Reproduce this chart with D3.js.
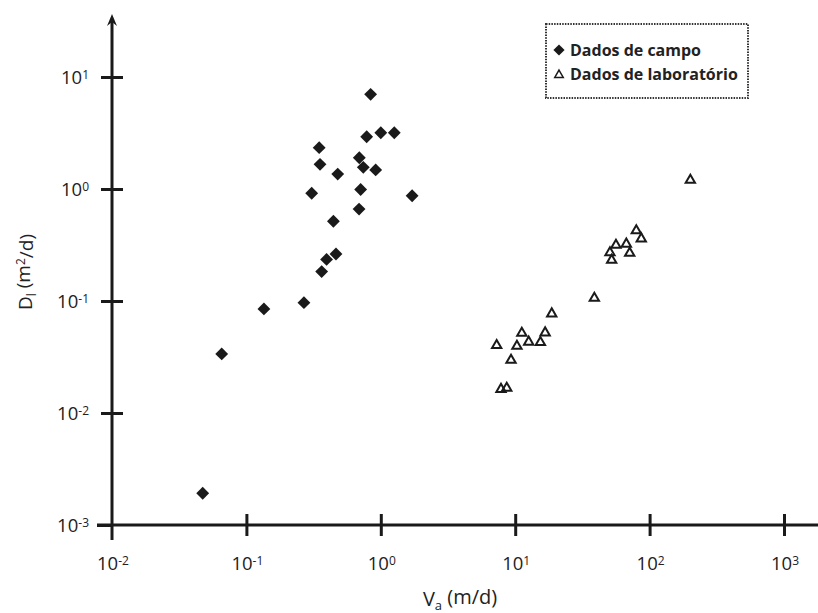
<!DOCTYPE html>
<html>
<head>
<meta charset="utf-8">
<script src="https://cdn.jsdelivr.net/npm/d3@7"></script>
<style>
  body { margin: 0; background: #fff; }
  text { font-family: "Open Sans", "Noto Sans", sans-serif; fill: #222; }
</style>
</head>
<body>
<svg id="chart" width="818" height="613"></svg>
<script>
// field data (diamonds): velocity V_a (m/d), dispersion D_l (m2/d)
const campoV = [0.84, 0.785, 1.0, 1.26, 0.348, 0.353, 0.692, 0.741, 0.916, 0.478, 0.306,
                0.708, 1.71, 0.689, 0.444, 0.464, 0.395, 0.363, 0.268, 0.135, 0.0655, 0.0473];
const campoD = [7.0, 2.93, 3.18, 3.18, 2.34, 1.66, 1.90, 1.56, 1.48, 1.36, 0.917,
                0.99, 0.87, 0.662, 0.515, 0.263, 0.235, 0.183, 0.0966, 0.085, 0.0337, 0.00192];

// lab data (triangles)
const labV = [201, 79.6, 86.7, 56.2, 67.1, 50.7, 71.1, 52.2, 38.8, 18.7, 11.2, 16.7,
              12.6, 15.4, 7.28, 10.3, 9.31, 7.84, 8.65];
const labD = [1.20, 0.425, 0.360, 0.316, 0.323, 0.270, 0.268, 0.232, 0.106, 0.077, 0.0516, 0.0521,
              0.0431, 0.0428, 0.0402, 0.0396, 0.0297, 0.0163, 0.0167];

const xTicks = [-2, -1, 0, 1, 2, 3];   // exponents
const yTicks = [-3, -2, -1, 0, 1];

const svg = d3.select("#chart");

const x = d3.scaleLog().domain([1e-2, 1e3]).range([112, 784]);
const y = d3.scaleLog().domain([1e-3, 1e1]).range([525, 77]);

const ink = "#1a1a1a";

// axes (ticks through d3 axis, lines drawn a bit longer like the original)
const gx = svg.append("g")
    .attr("transform", `translate(0,${y(1e-3)})`)
    .call(d3.axisBottom(x).tickValues(xTicks.map(e => Math.pow(10, e))).tickFormat("").tickSize(11));
gx.select(".domain").remove();
gx.selectAll(".tick line").attr("y1", -11).attr("y2", 11)
    .attr("stroke", ink).attr("stroke-width", 3);
gx.selectAll(".tick").filter((d, i) => i === 0).select("line").remove();

const gy = svg.append("g")
    .attr("transform", `translate(${x(1e-2)},0)`)
    .call(d3.axisLeft(y).tickValues(yTicks.map(e => Math.pow(10, e))).tickFormat("").tickSize(11));
gy.select(".domain").remove();
gy.selectAll(".tick line").attr("x1", 11).attr("x2", -11)
    .attr("stroke", ink).attr("stroke-width", 3);
gy.selectAll(".tick").filter((d, i) => i === 0).select("line").attr("x1", 0).attr("x2", -15);

// main axis lines
svg.append("line")
    .attr("x1", 97).attr("x2", 818)
    .attr("y1", y(1e-3)).attr("y2", y(1e-3))
    .attr("stroke", ink).attr("stroke-width", 3);
svg.append("line")
    .attr("x1", x(1e-2)).attr("x2", x(1e-2))
    .attr("y1", 540).attr("y2", 19)
    .attr("stroke", ink).attr("stroke-width", 3);
svg.append("path")
    .attr("d", `M${x(1e-2)},14 L${x(1e-2) - 5},26 L${x(1e-2)},22 L${x(1e-2) + 5},26 Z`)
    .attr("fill", ink);

// tick labels with superscripts
function powLabel(sel, e) {
  sel.append("tspan").text("10");
  sel.append("tspan").attr("dy", "-0.45em").attr("font-size", "12px").text(String(e));
}

xTicks.forEach(e => {
  const t = svg.append("text")
      .attr("x", x(Math.pow(10, e)) + 1)
      .attr("y", 570)
      .attr("text-anchor", "middle")
      .attr("font-size", "18.5px");
  powLabel(t, e);
});

yTicks.forEach(e => {
  const t = svg.append("text")
      .attr("x", 89)
      .attr("y", y(Math.pow(10, e)) + 7)
      .attr("text-anchor", "end")
      .attr("font-size", "18.5px");
  powLabel(t, e);
});

// axis titles
const xt = svg.append("text")
    .attr("x", 460).attr("y", 606)
    .attr("text-anchor", "middle")
    .attr("font-size", "20px");
xt.append("tspan").text("V");
xt.append("tspan").attr("dy", "0.3em").attr("font-size", "13px").text("a");
xt.append("tspan").attr("dy", "-0.3em").text(" (m/d)");

const yt = svg.append("text")
    .attr("transform", "translate(32,272) rotate(-90)")
    .attr("text-anchor", "middle")
    .attr("font-size", "19px");
yt.append("tspan").text("D");
yt.append("tspan").attr("dy", "0.3em").attr("font-size", "12px").text("l");
yt.append("tspan").attr("dy", "-0.3em").text(" (m");
yt.append("tspan").attr("dy", "-0.45em").attr("font-size", "12px").text("2");
yt.append("tspan").attr("dy", "0.45em").text("/d)");

// markers
const diamond = d3.symbol().type(d3.symbolDiamond2).size(105);
const triangle = d3.symbol().type(d3.symbolTriangle2).size(62);

const campo = campoV.map((v, i) => ({v: v, d: campoD[i]}));
const lab = labV.map((v, i) => ({v: v, d: labD[i]}));

svg.append("g").selectAll("path")
  .data(campo)
  .join("path")
    .attr("d", diamond)
    .attr("transform", d => `translate(${x(d.v)},${y(d.d)})`)
    .attr("fill", ink);

svg.append("g").selectAll("path")
  .data(lab)
  .join("path")
    .attr("d", triangle)
    .attr("transform", d => `translate(${x(d.v)},${y(d.d)})`)
    .attr("fill", "none")
    .attr("stroke", ink)
    .attr("stroke-width", 2);

// legend
const lg = svg.append("g");
lg.append("rect")
    .attr("x", 546).attr("y", 24).attr("width", 202).attr("height", 74)
    .attr("fill", "#fff")
    .attr("stroke", "#333").attr("stroke-width", 2)
    .attr("stroke-dasharray", "1.5,1.2");
lg.append("path")
    .attr("d", d3.symbol().type(d3.symbolDiamond2).size(80))
    .attr("transform", "translate(559,50)")
    .attr("fill", ink);
lg.append("path")
    .attr("d", d3.symbol().type(d3.symbolTriangle2).size(52))
    .attr("transform", "translate(559,75)")
    .attr("fill", "none").attr("stroke", ink).attr("stroke-width", 1.5);
lg.append("text")
    .attr("x", 570).attr("y", 56)
    .attr("font-size", "16px").attr("font-weight", "bold")
    .text("Dados de campo");
lg.append("text")
    .attr("x", 570).attr("y", 80)
    .attr("font-size", "16px").attr("font-weight", "bold")
    .text("Dados de laboratório");
</script>
</body>
</html>
